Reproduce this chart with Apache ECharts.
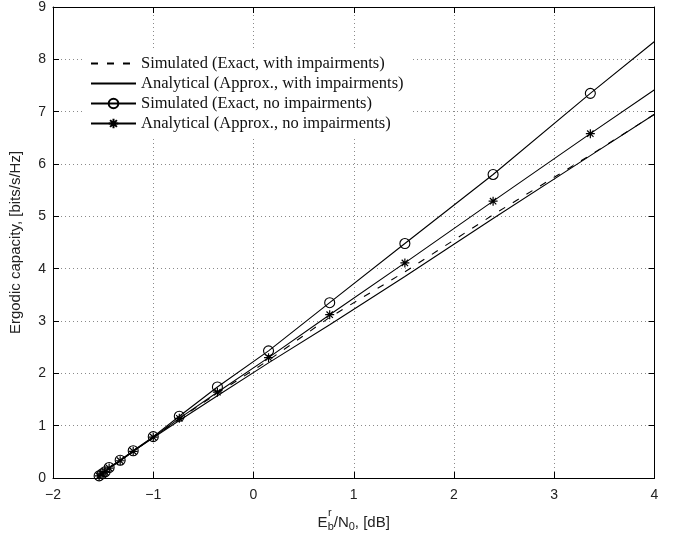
<!DOCTYPE html>
<html>
<head>
<meta charset="utf-8">
<script src="https://cdn.jsdelivr.net/npm/echarts@6/dist/echarts.min.js"></script>
<style>html,body{margin:0;padding:0;background:#fff}#c{width:678px;height:537px}</style>
</head>
<body>
<div id="c"></div>
<script>
// Eb/N0 grid (dB) shared by all curves
var ebn0 = [-1.54, -1.51, -1.48, -1.44, -1.33, -1.2, -1.0, -0.74, -0.36, 0.15, 0.76, 1.51, 2.39, 3.36, 4.0];
// Simulated (Exact, with impairments)
var simImp = [0.04, 0.08, 0.12, 0.19, 0.33, 0.51, 0.78, 1.13, 1.62, 2.25, 3.07, 3.94, 5.03, 6.17, 6.95];
// Analytical (Approx., with impairments)
var anaImp = [0.04, 0.08, 0.12, 0.19, 0.33, 0.51, 0.77, 1.10, 1.57, 2.20, 2.93, 3.85, 4.96, 6.16, 6.95];
// Simulated (Exact, no impairments)
var simNo = [0.04, 0.08, 0.12, 0.20, 0.34, 0.52, 0.79, 1.18, 1.74, 2.43, 3.35, 4.48, 5.80, 7.35, 8.34];
// Analytical (Approx., no impairments)
var anaNo = [0.04, 0.08, 0.12, 0.19, 0.33, 0.51, 0.78, 1.14, 1.64, 2.30, 3.12, 4.11, 5.29, 6.58, 7.42];
// markers shown at every grid point except the last one
var markerCount = 14;

var names = ['Simulated (Exact, with impairments)', 'Analytical (Approx., with impairments)',
             'Simulated (Exact, no impairments)', 'Analytical (Approx., no impairments)'];
var xTicks = {min: -2, max: 4, interval: 1};
var yTicks = {min: 0, max: 9, interval: 1};

function pairs(ys, withMarkers) {
  return ebn0.map(function (x, i) {
    var item = {value: [x, ys[i]]};
    if (withMarkers && i >= markerCount) item.symbol = 'none';
    return item;
  });
}

var star = 'path://M0,-5L0,5M-5,0L5,0M-3.54,-3.54L3.54,3.54M-3.54,3.54L3.54,-3.54';
var black = '#000';
var gridLine = {show: true, lineStyle: {color: '#8a8a8a', type: [1, 3], width: 1}};
var fmt = function (v) { return String(v).replace('-', '\u2212'); };

var chart = echarts.init(document.getElementById('c'), null, {renderer: 'canvas'});
chart.setOption({
  backgroundColor: '#fff',
  animation: false,
  grid: {left: 49, right: 23.5, top: 5.5, bottom: 56},
  legend: {
    orient: 'vertical', left: 82, top: 49,
    backgroundColor: '#fff',
    padding: [6, 8, 6, 8],
    itemWidth: 45, itemHeight: 12, itemGap: 3,
    textStyle: {fontFamily: 'Liberation Serif', fontSize: 16.5, lineHeight: 16, color: '#111', padding: [0, 0, 0, 0]},
    data: [
      {name: names[0], itemStyle: {opacity: 0}},
      {name: names[1], itemStyle: {opacity: 0}},
      {name: names[2]},
      {name: names[3]}
    ]
  },
  xAxis: [{
    type: 'value', min: xTicks.min, max: xTicks.max, interval: xTicks.interval,
    axisLine: {onZero: false, lineStyle: {color: black, width: 1}},
    axisTick: {inside: true, length: 6, lineStyle: {color: black}},
    axisLabel: {formatter: fmt, color: '#222', fontFamily: 'Liberation Sans', fontSize: 14, margin: 10},
    splitLine: gridLine,
    name: '{e|E}{s|b}{e|/N}{s|0}{e|, [dB]}', nameLocation: 'middle', nameGap: 37,
    nameTextStyle: {rich: {
      e: {fontFamily: 'Liberation Sans', fontSize: 15, color: '#222', verticalAlign: 'top', lineHeight: 17},
      s: {fontFamily: 'Liberation Sans', fontSize: 11, color: '#222', verticalAlign: 'bottom', lineHeight: 12}
    }}
  }, {
    type: 'value', position: 'top', min: xTicks.min, max: xTicks.max, interval: xTicks.interval,
    axisLine: {onZero: false, lineStyle: {color: black, width: 1}},
    axisTick: {inside: true, length: 6, lineStyle: {color: black}},
    axisLabel: {show: false}, splitLine: {show: false}
  }],
  yAxis: [{
    type: 'value', min: yTicks.min, max: yTicks.max, interval: yTicks.interval,
    axisLine: {onZero: false, lineStyle: {color: black, width: 1}},
    axisTick: {inside: true, length: 6, lineStyle: {color: black}},
    axisLabel: {color: '#222', fontFamily: 'Liberation Sans', fontSize: 14, margin: 7},
    splitLine: gridLine,
    name: 'Ergodic capacity, [bits/s/Hz]', nameLocation: 'middle', nameGap: 30,
    nameTextStyle: {fontFamily: 'Liberation Sans', fontSize: 15, color: '#222'}
  }, {
    type: 'value', position: 'right', min: yTicks.min, max: yTicks.max, interval: yTicks.interval,
    axisLine: {onZero: false, lineStyle: {color: black, width: 1}},
    axisTick: {inside: true, length: 6, lineStyle: {color: black}},
    axisLabel: {show: false}, splitLine: {show: false}
  }],
  graphic: [{
    type: 'text', left: 328, top: 507,
    style: {text: 'r', font: '11px "Liberation Sans"', fill: '#222'}
  }],
  series: [{
    name: names[0], type: 'line', symbol: 'none', data: pairs(simImp, false),
    lineStyle: {color: black, width: 1.1, type: [7, 9]}, itemStyle: {color: black}, z: 3
  }, {
    name: names[1], type: 'line', symbol: 'none', data: pairs(anaImp, false),
    lineStyle: {color: black, width: 1.1}, itemStyle: {color: black}, z: 3
  }, {
    name: names[2], type: 'line', symbol: 'circle', symbolSize: 10, showAllSymbol: true,
    data: pairs(simNo, true),
    lineStyle: {color: black, width: 1.1},
    itemStyle: {color: 'none', borderColor: black, borderWidth: 1.1}, z: 4
  }, {
    name: names[3], type: 'line', symbol: star, symbolSize: 9, showAllSymbol: true,
    data: pairs(anaNo, true),
    lineStyle: {color: black, width: 1.1},
    itemStyle: {color: 'none', borderColor: black, borderWidth: 1.2}, z: 4
  }]
});
</script>
</body>
</html>
